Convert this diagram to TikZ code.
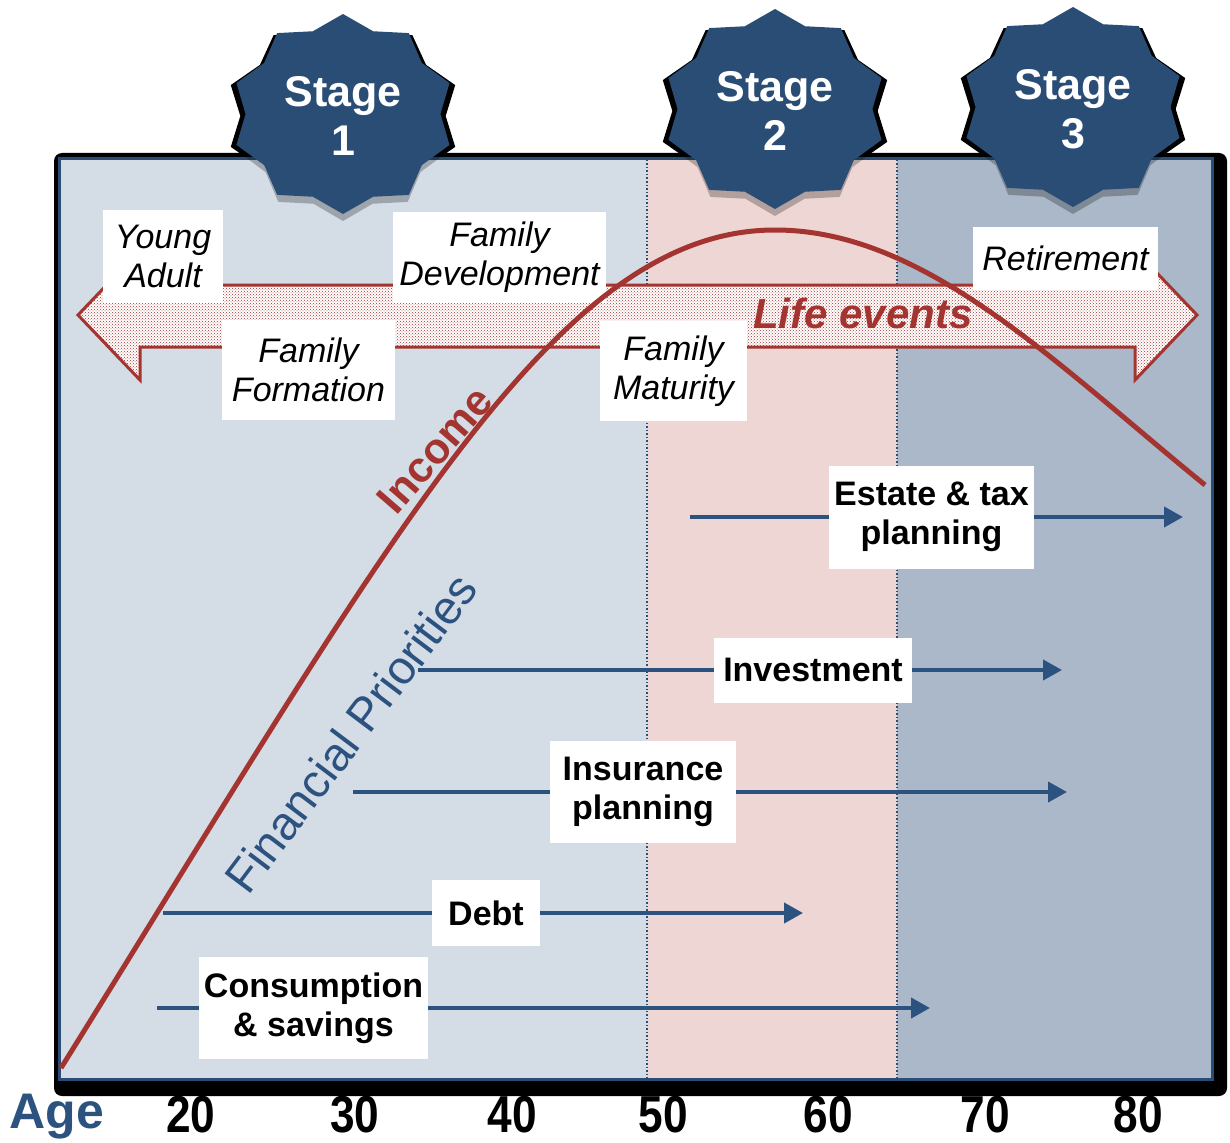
\documentclass[tikz,border=0pt]{standalone}
\usepackage{fontspec}
\setmainfont{Liberation Sans}
\usetikzlibrary{arrows.meta,patterns}

\definecolor{stageblue}{RGB}{42,77,118}
\definecolor{priorblue}{RGB}{44,82,128}
\definecolor{incomered}{RGB}{163,52,48}
\definecolor{youngbg}{RGB}{212,220,230}
\definecolor{midbg}{RGB}{237,214,212}
\definecolor{oldbg}{RGB}{170,184,201}

\tikzset{
  stagelabel/.style={text=white, align=center, inner sep=0pt,
    font=\fontsize{43}{49}\selectfont\bfseries},
  stagedivider/.style={draw=stageblue, line width=1.5pt, dash pattern=on 1.5pt off 2pt},
  lifeband/.style={draw=incomered, line width=3pt, line join=miter,
    preaction={fill=white}, pattern=crosshatch dots, pattern color=incomered},
  lifetext/.style={text=incomered, inner sep=0pt,
    font=\fontsize{42}{48}\selectfont\bfseries\itshape},
  eventbox/.style={fill=white, inner sep=0pt, align=center,
    font=\fontsize{34}{39}\selectfont\itshape},
  incomeline/.style={draw=incomered, line width=5pt},
  incomelabel/.style={text=incomered, inner sep=0pt,
    font=\fontsize{43}{48}\selectfont\bfseries},
  priobox/.style={fill=white, inner sep=0pt, align=center,
    font=\fontsize{34}{39}\selectfont\bfseries},
  prioline/.style={draw=priorblue, line width=4pt},
  prioarrow/.style={prioline, -{Triangle[length=19pt,width=20pt]}},
  priotitle/.style={text=priorblue, inner sep=0pt, font=\fontsize{47}{50}\selectfont},
  agelabel/.style={text=priorblue, inner sep=0pt, font=\fontsize{50}{50}\selectfont\bfseries},
  agenum/.style={inner sep=0pt, font=\fontsize{52}{52}\selectfont\bfseries}
}

\begin{document}
\begin{tikzpicture}[x=1pt, y=-1pt]
  \useasboundingbox (0,0) rectangle (1230,1142);

  % badge shadows behind the frame
  \foreach \n/\x/\y in {1/343/114, 2/775/109, 3/1073/107} {
    \fill[black, shift={(\x,\y+2)}] (90:118 and 100)
      \foreach \k in {1,...,19} {-- ({90+18*\k}:{118*(1-0.13*mod(\k,2))} and {100*(1-0.13*mod(\k,2))})} -- cycle;
  }

  % frame and the three stage bands
  \fill[black, rounded corners=8pt] (54,153) rectangle (1227,1096);
  \fill[stageblue] (58,157) rectangle (1214,1081);
  \fill[youngbg] (61,160) rectangle (647,1078);
  \fill[midbg] (647,160) rectangle (897,1078);
  \fill[oldbg] (897,160) rectangle (1211,1078);
  \draw[stagedivider] (647,160) -- (647,1078);
  \draw[stagedivider] (897,160) -- (897,1078);

  % stage badges
  \foreach \n/\x/\y in {1/343/114, 2/775/109, 3/1073/107} {
    \fill[black, opacity=.25, shift={(\x,\y+7)}] (90:110 and 100)
      \foreach \k in {1,...,19} {-- ({90+18*\k}:{110*(1-0.13*mod(\k,2))} and {100*(1-0.13*mod(\k,2))})} -- cycle;
    \fill[stageblue, shift={(\x,\y)}] (90:112 and 100)
      \foreach \k in {1,...,19} {-- ({90+18*\k}:{112*(1-0.13*mod(\k,2))} and {100*(1-0.13*mod(\k,2))})} -- cycle;
    \node[stagelabel] (stage\n) at (\x,\y+2) {Stage\\\n};
  }

  % life events arrow
  \draw[lifeband] (78,315) -- (140,250) -- (140,285) -- (1135,285) -- (1135,250)
    -- (1197,315) -- (1135,380) -- (1135,347) -- (140,347) -- (140,380) -- cycle;
  \node[lifetext] (life) at (863,313) {Life events};

  \node[eventbox, minimum width=120pt, minimum height=93pt] (young) at (163,256) {Young\\Adult};
  \node[eventbox, minimum width=213pt, minimum height=91pt] (develop) at (499.5,257) {Family\\Development};
  \node[eventbox, minimum width=173pt, minimum height=100pt] (formation) at (308.5,370) {Family\\Formation};
  \node[eventbox, minimum width=147pt, minimum height=100pt] (maturity) at (673.5,371) {Family\\Maturity};
  \node[eventbox, minimum width=185pt, minimum height=63pt] (retire) at (1065.5,258.5) {Retirement};

  % income curve
  \draw[incomeline] (61,1068) .. controls (390,540) and (555,230) .. (775,230)
    .. controls (925,230) and (1055,363) .. (1205,485);
  \node[incomelabel, rotate=49] (income) at (435,450) {Income};

  % financial priorities
  \coordinate (estS) at (690,517);  \coordinate (estE) at (1183,517);
  \coordinate (invS) at (418,670);  \coordinate (invE) at (1062,670);
  \coordinate (insS) at (353,792);  \coordinate (insE) at (1067,792);
  \coordinate (debS) at (163,913);  \coordinate (debE) at (803,913);
  \coordinate (conS) at (157,1008); \coordinate (conE) at (930,1008);

  \node[priobox, minimum width=205pt, minimum height=103pt] (estate) at (931.5,517) {Estate \& tax\\planning};
  \node[priobox, minimum width=198pt, minimum height=65pt] (invest) at (813,670) {Investment};
  \node[priobox, minimum width=186pt, minimum height=102pt] (insure) at (643,792) {Insurance\\planning};
  \node[priobox, minimum width=108pt, minimum height=66pt] (debt) at (486,913) {Debt};
  \node[priobox, minimum width=229pt, minimum height=102pt] (consume) at (313.5,1008) {Consumption\\\& savings};

  \draw[prioline] (estS) -- (estate);   \draw[prioarrow] (estate) -- (estE);
  \draw[prioline] (invS) -- (invest);   \draw[prioarrow] (invest) -- (invE);
  \draw[prioline] (insS) -- (insure);   \draw[prioarrow] (insure) -- (insE);
  \draw[prioline] (debS) -- (debt);     \draw[prioarrow] (debt) -- (debE);
  \draw[prioline] (conS) -- (consume);  \draw[prioarrow] (consume) -- (conE);

  \node[priotitle, rotate=53] (priorities) at (351,733) {Financial Priorities};

  % age axis
  \node[agelabel] (age) at (57,1117) {Age};
  \foreach \a/\x in {20/191, 30/355, 40/512, 50/663, 60/828, 70/985, 80/1138}
    \node[agenum] (tick\a) at (\x,1115) {\scalebox{0.85}[1]{\a}};
\end{tikzpicture}
\end{document}
